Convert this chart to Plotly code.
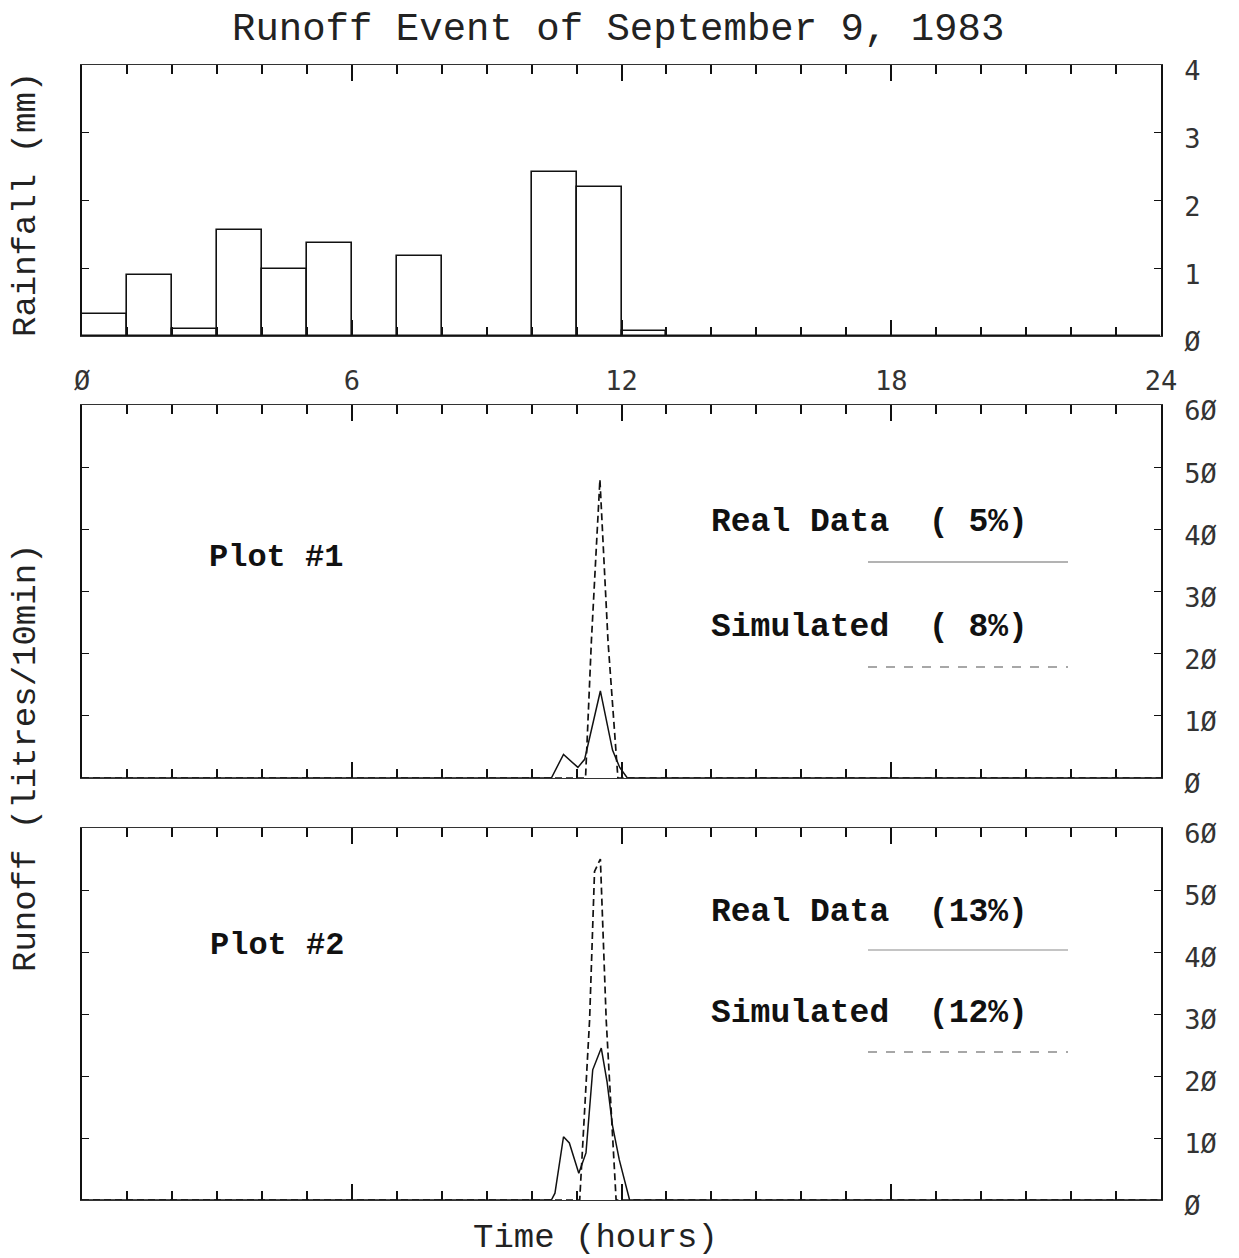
import plotly.graph_objects as go
from plotly.subplots import make_subplots

# ---------------- data ----------------
rain_hours = [h + 0.5 for h in range(24)]
rain_mm = [0.33, 0.90, 0.10, 1.57, 0.99, 1.37, 0.0, 1.18, 0.0, 0.0, 2.42, 2.20,
           0.07, 0.0, 0.0, 0.0, 0.0, 0.0, 0.0, 0.0, 0.0, 0.0, 0.0, 0.0]

real1_t = [0, 10.44, 10.71, 11.03, 11.18, 11.53, 11.8, 11.96, 12.13, 24]
real1_v = [0, 0, 3.8, 1.7, 3.0, 14.0, 4.5, 1.7, 0, 0]
sim1_t = [0, 11.2, 11.33, 11.52, 11.7, 11.92, 24]
sim1_v = [0, 0, 22, 48, 22, 0, 0]

real2_t = [0, 10.44, 10.52, 10.71, 10.84, 11.05, 11.21, 11.36, 11.55, 11.68, 11.8, 11.95, 12.18, 24]
real2_v = [0, 0, 1.1, 10.2, 9.2, 4.3, 7.6, 21.0, 24.5, 19.0, 12.0, 6.5, 0, 0]
sim2_t = [0, 11.07, 11.29, 11.4, 11.53, 11.66, 11.88, 24]
sim2_v = [0, 0, 29, 53, 55, 29, 0, 0]

x_tickvals = [0, 6, 12, 18, 24]
x_ticktext = ["Ø", "6", "12", "18", "24"]
rain_tickvals = [0, 1, 2, 3, 4]
rain_ticktext = ["Ø", "1", "2", "3", "4"]
run_tickvals = [0, 10, 20, 30, 40, 50, 60]
run_ticktext = ["Ø", "1Ø", "2Ø", "3Ø", "4Ø", "5Ø", "6Ø"]

# ---------------- geometry ----------------
W, H = 1239, 1258
L, R, T, B = 82, 78, 65, 58
PW = W - L - R
PH = H - T - B


def px(xp):
    return (xp - L) / PW


def py(yp):
    return (H - B - yp) / PH


MONO = "Liberation Mono"
TICKF = dict(family="DejaVu Sans Mono", size=27, color="#333")
INK = "#111"

fig = make_subplots(rows=3, cols=1)

fig.add_trace(go.Bar(x=rain_hours, y=rain_mm, width=1,
                     marker=dict(color="rgba(0,0,0,0)", line=dict(color=INK, width=1.6))),
              row=1, col=1)

fig.add_trace(go.Scatter(x=real1_t, y=real1_v, mode="lines",
                         line=dict(color=INK, width=1.5)), row=2, col=1)
fig.add_trace(go.Scatter(x=sim1_t, y=sim1_v, mode="lines",
                         line=dict(color=INK, width=1.7, dash="7px,4px")), row=2, col=1)
fig.add_trace(go.Scatter(x=real2_t, y=real2_v, mode="lines",
                         line=dict(color=INK, width=1.5)), row=3, col=1)
fig.add_trace(go.Scatter(x=sim2_t, y=sim2_v, mode="lines",
                         line=dict(color=INK, width=1.7, dash="7px,4px")), row=3, col=1)

xcommon = dict(range=[0, 24], showgrid=False, zeroline=False, showline=True,
               linecolor="#333", linewidth=1.3, mirror="ticks",
               ticks="inside", tickvals=x_tickvals, ticklen=16, tickwidth=1.6, tickcolor=INK,
               minor=dict(dtick=1, ticks="inside", ticklen=9, tickwidth=1.6, tickcolor=INK),
               tickfont=TICKF)
ycommon = dict(showgrid=False, zeroline=False, showline=True,
               linecolor=INK, linewidth=1.6, mirror="ticks", side="right",
               ticks="inside", ticklen=7, tickwidth=1.3, tickcolor=INK,
               tickfont=TICKF, ticklabelstandoff=16, ticklabelshift=6)

doms = [
    [py(336), 1.0],
    [py(778), py(405)],
    [0.0, py(828)],
]

fig.update_layout(
    xaxis=dict(**xcommon, domain=[0, 1], ticktext=x_ticktext, showticklabels=True,
               ticklabelstandoff=20),
    xaxis2=dict(**xcommon, domain=[0, 1], showticklabels=False),
    xaxis3=dict(**xcommon, domain=[0, 1], showticklabels=False),
    yaxis=dict(**ycommon, domain=doms[0], range=[0, 4], tickvals=rain_tickvals,
               ticktext=rain_ticktext),
    yaxis2=dict(**ycommon, domain=doms[1], range=[0, 60], tickvals=run_tickvals,
                ticktext=run_ticktext),
    yaxis3=dict(**ycommon, domain=doms[2], range=[0, 60], tickvals=run_tickvals,
                ticktext=run_ticktext),
    width=W, height=H,
    margin=dict(l=L, r=R, t=T, b=B, pad=0),
    paper_bgcolor="white", plot_bgcolor="white",
    showlegend=False,
    bargap=0,
)

nb = "\u00a0"
annots = [
    dict(text="Runoff Event of September 9, 1983", x=px(618), y=py(30),
         font=dict(family=MONO, size=39, color="#222")),
    dict(text="Rainfall (mm)", x=px(26), y=py(205), textangle=-90,
         font=dict(family=MONO, size=34, color="#222")),
    dict(text="Runoff (litres/10min)", x=px(26), y=py(758), textangle=-90,
         font=dict(family=MONO, size=34, color="#222")),
    dict(text="Time (hours)", x=px(595), y=py(1238),
         font=dict(family=MONO, size=34, color="#222")),
    dict(text="Plot #1", x=px(276), y=py(557),
         font=dict(family=MONO, size=32, color="#111", weight="bold")),
    dict(text="Plot #2", x=px(277), y=py(945),
         font=dict(family=MONO, size=32, color="#111", weight="bold")),
    dict(text=f"Real Data{nb}{nb}({nb}5%)", x=px(869), y=py(522),
         font=dict(family=MONO, size=33, color="#111", weight="bold")),
    dict(text=f"Simulated{nb}{nb}({nb}8%)", x=px(869), y=py(627),
         font=dict(family=MONO, size=33, color="#111", weight="bold")),
    dict(text=f"Real Data{nb}{nb}(13%)", x=px(869), y=py(912),
         font=dict(family=MONO, size=33, color="#111", weight="bold")),
    dict(text=f"Simulated{nb}{nb}(12%)", x=px(869), y=py(1013),
         font=dict(family=MONO, size=33, color="#111", weight="bold")),
]
for a in annots:
    a.update(xref="paper", yref="paper", showarrow=False,
             xanchor="center", yanchor="middle")
fig.update_layout(annotations=annots)

legend_lines = [
    (562, "solid", "#9a9a9a"),
    (667, "dash", "#8a8a8a"),
    (950, "solid", "#b0b0b0"),
    (1052, "dash", "#8a8a8a"),
]
for yy, dash, col in legend_lines:
    fig.add_shape(type="line", xref="paper", yref="paper",
                  x0=px(868), x1=px(1068), y0=py(yy), y1=py(yy),
                  line=dict(color=col, width=1.5, dash=dash))

fig.write_html("out.html")
